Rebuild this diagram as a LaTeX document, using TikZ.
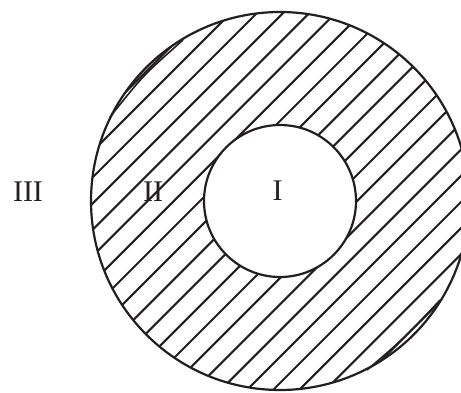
\documentclass[tikz,border=0pt]{standalone}
\usepackage{fontspec}
\setmainfont{Liberation Serif}
\begin{document}
\begin{tikzpicture}[x=1pt,y=-1pt,font=\fontsize{30}{34}\selectfont]
  \definecolor{ink}{HTML}{231F20}
  \path[use as bounding box] (0,0) rectangle (461,392);
  \clip (0,0) rectangle (461,392);
  \coordinate (o) at (280,201);
  % hatching of the ring
  \begin{scope}[even odd rule]
    \clip (o) circle[radius=189] (o) circle[radius=76];
    \foreach \k in {0,...,34}{
      \draw[ink,line width=2.1pt] (8+26.2*\k,0) -- ++(-420,420);
    }
  \end{scope}
  \draw[ink,line width=2.2pt] (o) circle[radius=189];
  \draw[ink,line width=2.2pt] (o) circle[radius=76];
  % bowed hatch lines at the rim
  \coordinate (tl1) at (110,117);
  \coordinate (tl2) at (183,40);
  \coordinate (br1) at (367,370);
  \coordinate (br2) at (440,300);
  \draw[ink,line width=1.6pt] (tl1) .. controls (143,75.5) .. (tl2);
  \draw[ink,line width=1.6pt] (br1) .. controls (405.5,337) .. (br2);
  \node[text=ink] (I) at (277.5,191) {I};
  \node[text=ink] (II) at (153,192) {II};
  \node[text=ink] (III) at (28,192) {III};
\end{tikzpicture}
\end{document}
